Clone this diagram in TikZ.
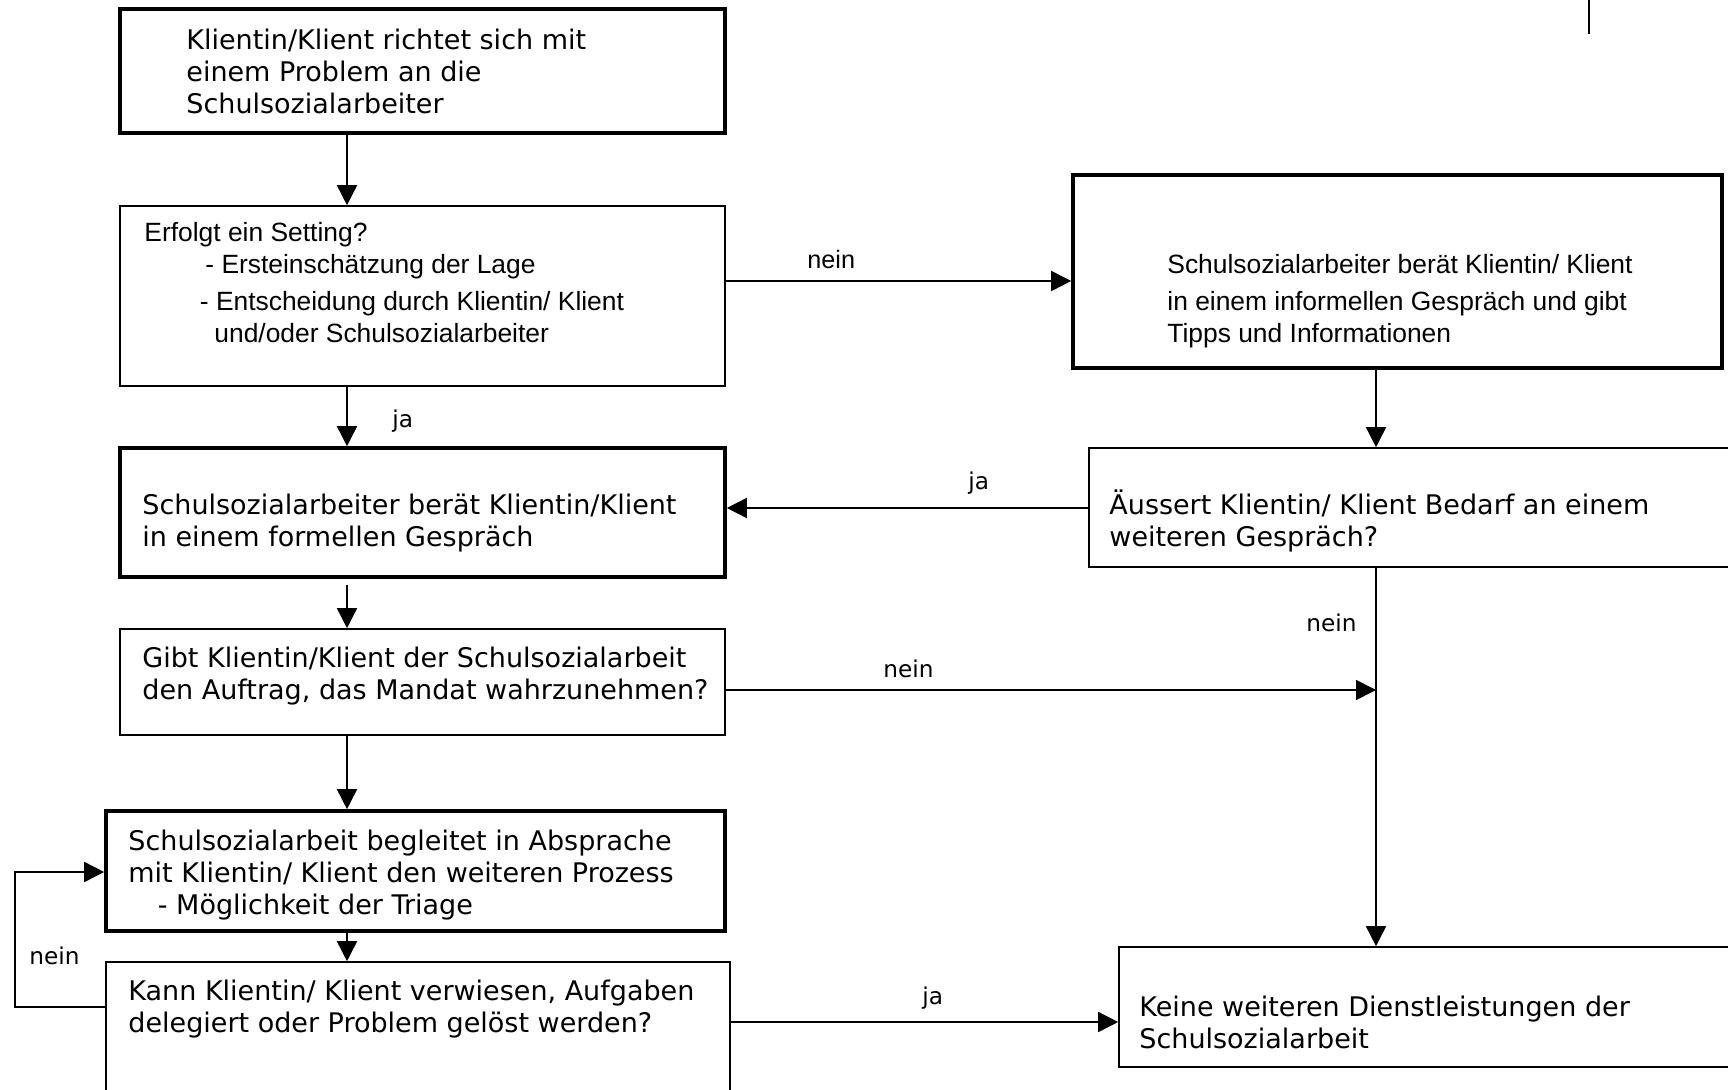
\documentclass[tikz,border=0pt]{standalone}
\usepackage{fontspec}
\setmainfont{DejaVu Sans}
\newfontfamily\arialf{Liberation Sans}
\usetikzlibrary{arrows.meta,fit}
\newcommand\tlines[1]{\vtop{\lineskiplimit=-50pt\lineskip=0pt\halign{##\hfil\cr#1\crcr}}}
\begin{document}
\begin{tikzpicture}[x=0.5pt,y=-0.5pt,
  thickbox/.style={draw, line width=1.8pt, inner sep=0pt},
  thinbox/.style={draw, line width=0.8pt, inner sep=0pt},
  vtxt/.style={font=\fontsize{13.5}{16}\selectfont, inner sep=0pt, anchor=base west},
  atxt/.style={font=\arialf\fontsize{13.2}{16}\selectfont, inner sep=0pt, anchor=base west},
  lbl/.style={font=\fontsize{11.6}{14}\selectfont, inner sep=0pt, anchor=base west},
  albl/.style={font=\arialf\fontsize{12.6}{14}\selectfont, inner sep=0pt, anchor=base west},
  arr/.style={line width=0.8pt, -{Triangle[length=10pt,width=10pt]}}]
\useasboundingbox (0,0) rectangle (1728,1090);
\clip (0,0) rectangle (1728,1090);
\fill[white] (0,0) rectangle (1728,1090);

% boxes
\node[thickbox, fit={(120,9) (725,133)}] (b1) {};
\node[thinbox, fit={(120,206) (725,386)}] (b2) {};
\node[thickbox, fit={(1073,175) (1722,368)}] (b3) {};
\node[thickbox, fit={(120,448) (725,577)}] (b4) {};
\node[thinbox, fit={(1089,448) (1760,567)}] (b5) {};
\node[thinbox, fit={(120,629) (725,735)}] (b6) {};
\node[thickbox, fit={(106,811) (725,931)}] (b7) {};
\node[thinbox, fit={(106,962) (730,1120)}] (b8) {};
\node[thinbox, fit={(1119,947) (1760,1067)}] (b9) {};

% texts
\node[vtxt] (t1) at (186,50) {\tlines{Klientin/Klient richtet sich mit\cr einem Problem an die\cr Schulsozialarbeiter}};
\node[atxt] (t2) at (144,242) {\tlines{Erfolgt ein Setting?\cr \hskip30.5pt- Ersteinschätzung der Lage\cr\noalign{\vskip2.25pt} \hskip27.75pt- Entscheidung durch Klientin/ Klient\cr \hskip35pt und/oder Schulsozialarbeiter}};
\node[atxt] (t3) at (1167,274) {\tlines{Schulsozialarbeiter berät Klientin/ Klient\cr\noalign{\vskip2.25pt} in einem informellen Gespräch und gibt\cr Tipps und Informationen}};
\node[vtxt] (t4) at (142,515) {\tlines{Schulsozialarbeiter berät Klientin/Klient\cr in einem formellen Gespräch}};
\node[vtxt] (t5) at (1109,515) {\tlines{Äussert Klientin/ Klient Bedarf an einem\cr weiteren Gespräch?}};
\node[vtxt] (t6) at (142,667) {\tlines{Gibt Klientin/Klient der Schulsozialarbeit\cr den Auftrag, das Mandat wahrzunehmen?}};
\node[vtxt] (t7) at (128,850) {\tlines{Schulsozialarbeit begleitet in Absprache\cr mit Klientin/ Klient den weiteren Prozess\cr \hskip14.75pt- Möglichkeit der Triage}};
\node[vtxt] (t8) at (128,1000) {\tlines{Kann Klientin/ Klient verwiesen, Aufgaben\cr delegiert oder Problem gelöst werden?}};
\node[vtxt] (t9) at (1139,1016) {\tlines{Keine weiteren Dienstleistungen der\cr Schulsozialarbeit}};

% labels
\node[albl] (l1) at (807,269) {nein};
\node[lbl] (l2) at (392,428) {ja};
\node[lbl] (l3) at (968,489) {ja};
\node[lbl] (l4) at (1306,631) {nein};
\node[lbl] (l5) at (883,677) {nein};
\node[lbl] (l6) at (29,964) {nein};
\node[lbl] (l7) at (922,1004) {ja};

% helper coordinates
\coordinate (cx) at (347,0);
\coordinate (cr) at (1376,0);
\coordinate (j1) at (1376,690);
\coordinate (lp) at (15,872);

% connectors
\draw[arr] (b1.south -| cx) -- (b2.north -| cx);
\draw[arr] (b2.east |- 0,281) -- (b3.west |- 0,281);
\draw[arr] (b2.south -| cx) -- (b4.north -| cx);
\draw[arr] (b3.south -| cr) -- (b5.north -| cr);
\draw[arr] (b5.west |- 0,508) -- (b4.east |- 0,508);
\draw[arr, shorten <=3pt] (b4.south -| cx) -- (b6.north -| cx);
\draw[arr] (b6.east |- 0,690) -- (j1);
\draw[arr] (b5.south -| cr) -- (b9.north -| cr);
\draw[arr] (b6.south -| cx) -- (b7.north -| cx);
\draw[arr] (b7.south -| cx) -- (b8.north -| cx);
\draw[arr] (b8.west |- 0,1007) -| (lp) -- (b7.west |- lp);
\draw[arr] (b8.east |- 0,1022) -- (b9.west |- 0,1022);

% stray mark at top right
\draw[line width=0.8pt] (1589,0) -- (1589,34);
\end{tikzpicture}
\end{document}
